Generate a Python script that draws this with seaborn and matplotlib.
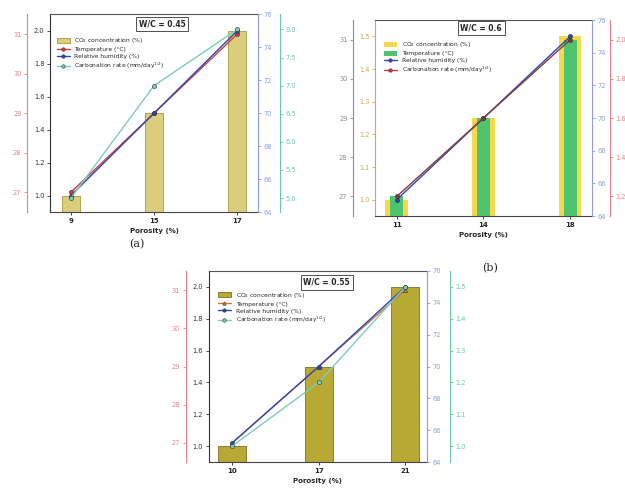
import numpy as np
import pandas as pd
import matplotlib
matplotlib.use("Agg")
import matplotlib.pyplot as plt
import seaborn as sns
from matplotlib.patches import Patch
from matplotlib.lines import Line2D

sns.set_style("ticks")
plt.rcParams['font.family'] = ['DejaVu Sans']

# ---------------- data ----------------
a_porosity = ["9", "15", "17"]
a_co2 = [1.0, 1.5, 2.0]
a_temp = [27, 29, 31]
a_rh = [65, 70, 75]
a_carb = [5.0, 7.0, 8.0]

b_porosity = ["11", "14", "18"]
b_co2 = [1.0, 1.25, 1.5]
b_temp = [27, 29, 31]
b_rh = [65, 70, 75]
b_carb = [1.2, 1.6, 2.0]

c_porosity = ["10", "17", "21"]
c_co2 = [1.0, 1.5, 2.0]
c_temp = [27, 29, 31]
c_rh = [65.2, 70, 75]
c_carb = [1.0, 1.2, 1.5]

lab_co2 = "CO$_2$ concentration (%)"
lab_temp = "Temperature (\u00b0C)"
lab_rh = "Relative humidity (%)"
lab_carb = "Carbonation rate (mm/day$^{1/2}$)"

RED_AX = "#e8808a"
BLUE_AX = "#8d9de0"
GREEN_AX = "#6cc9a0"
GRAY_AX = "#8c8c8c"
GOLD_AX = "#c2ad52"
LINE_RED = "#d23c3c"
LINE_BLUE = "#2b48b5"
LINE_TEAL = "#7dcdbb"
LINE_ORANGE = "#c8783c"

TICK_FS = 4.8

fig = plt.figure(figsize=(6.25, 4.9), dpi=100)


def style_main(ax, ylim, ticks, fmt, color="#333333"):
    ax.set_ylim(*ylim)
    ax.set_yticks(ticks)
    ax.set_yticklabels([fmt.format(t) for t in ticks])
    ax.tick_params(axis='y', labelsize=TICK_FS, length=2, width=0.6, pad=2,
                   colors=color, labelcolor=color)
    ax.tick_params(axis='x', labelsize=5, length=2, width=0.6, pad=2)
    for lab in ax.get_xticklabels():
        lab.set_fontweight('bold')
    ax.spines['left'].set_color(color)
    ax.spines['left'].set_linewidth(0.8)
    ax.spines['bottom'].set_color('#444444')
    ax.spines['bottom'].set_linewidth(0.8)
    ax.spines['top'].set_visible(True)
    ax.spines['top'].set_color('#555555')
    ax.spines['top'].set_linewidth(0.8)
    ax.spines['right'].set_visible(False)
    ax.set_xlabel("Porosity (%)", fontsize=5, fontweight='bold', labelpad=3)
    ax.set_ylabel("")


def extra_axis(ax, side, offset_px, color, ylim, ticks, fmt):
    t = ax.twinx()
    for s in t.spines.values():
        s.set_visible(False)
    sp = t.spines[side]
    sp.set_visible(True)
    sp.set_color(color)
    sp.set_linewidth(0.8)
    sp.set_position(('outward', offset_px * 72 / 100))
    if side == 'left':
        t.yaxis.set_ticks_position('left')
        t.yaxis.set_label_position('left')
    else:
        t.yaxis.set_ticks_position('right')
    t.set_ylim(*ylim)
    t.set_yticks(ticks)
    t.set_yticklabels([fmt.format(v) for v in ticks])
    t.tick_params(axis='y', labelsize=TICK_FS, length=2, width=0.6, pad=2,
                  colors=color, labelcolor=color)
    t.set_ylabel("")
    return t


def points(t, cats, vals, color, marker='o'):
    sns.pointplot(x=cats, y=vals, ax=t, color=color, markers=marker,
                  errorbar=None, markersize=3, linewidth=1.0,
                  markeredgecolor='#333333', markeredgewidth=0.4)
    t.set_ylabel("")
    t.set_xlabel("")


def title_box(ax, x, y, text):
    ax.text(x, y, text, transform=ax.transAxes, ha='center', va='center',
            fontsize=5.5, fontweight='bold', zorder=10,
            bbox=dict(boxstyle='square,pad=0.35', fc='white', ec='#333333', lw=0.6))


def legend(ax, handles, anchor):
    ax.legend(handles=handles, loc='upper left', bbox_to_anchor=anchor,
              frameon=False, fontsize=4.3, handlelength=2.2, handleheight=0.9,
              labelspacing=0.25, borderaxespad=0)


def mline(color, marker='o', label=""):
    return Line2D([], [], color=color, marker=marker, ms=2.5, mec='#333',
                  mew=0.4, lw=1, label=label)


# ---------------- panel (a) ----------------
ax_a = fig.add_axes([0.080, 0.567, 0.333, 0.404])
sns.barplot(x=a_porosity, y=a_co2, ax=ax_a, color="#dccd7d", width=0.22,
            edgecolor="#a8993f", linewidth=0.6, errorbar=None, saturation=1)
style_main(ax_a, (0.9, 2.1), [1.0, 1.2, 1.4, 1.6, 1.8, 2.0], "{:.1f}")
ta1 = extra_axis(ax_a, 'left', 23, RED_AX, (26.5, 31.5), [27, 28, 29, 30, 31], "{:d}")
ta2 = extra_axis(ax_a, 'right', 0, BLUE_AX, (64, 76), [64, 66, 68, 70, 72, 74, 76], "{:d}")
ta3 = extra_axis(ax_a, 'right', 22, GREEN_AX, (4.75, 8.27),
                 [5.0, 5.5, 6.0, 6.5, 7.0, 7.5, 8.0], "{:.1f}")
points(ta3, a_porosity, a_carb, LINE_TEAL)
points(ta2, a_porosity, a_rh, LINE_BLUE)
points(ta1, a_porosity, a_temp, LINE_RED)
ax_a.set_xlim(-0.25, 2.25)
title_box(ta1, 0.54, 0.95, "W/C = 0.45")
legend(ta1, [Patch(fc="#dccd7d", ec="#a8993f", lw=0.6, label=lab_co2),
             mline(LINE_RED, label=lab_temp), mline(LINE_BLUE, label=lab_rh),
             mline(LINE_TEAL, label=lab_carb)], (0.02, 0.90))

# ---------------- panel (b) ----------------
ax_b = fig.add_axes([0.600, 0.559, 0.347, 0.400])
sns.barplot(x=b_porosity, y=b_co2, ax=ax_b, color="#f4d94c", width=0.26,
            linewidth=0, errorbar=None, saturation=1)
style_main(ax_b, (0.95, 1.55), [1.0, 1.1, 1.2, 1.3, 1.4, 1.5], "{:.1f}", color=GOLD_AX)
tb1 = extra_axis(ax_b, 'left', 22, GRAY_AX, (26.5, 31.5), [27, 28, 29, 30, 31], "{:d}")
sns.barplot(x=b_porosity, y=b_temp, ax=tb1, color="#4fc46f", width=0.15,
            linewidth=0, errorbar=None, saturation=1)
tb1.set_ylim(26.5, 31.5)
tb1.set_ylabel("")
tb2 = extra_axis(ax_b, 'right', 0, BLUE_AX, (64, 76), [64, 66, 68, 70, 72, 74, 76], "{:d}")
tb3 = extra_axis(ax_b, 'right', 18, RED_AX, (1.1, 2.1), [1.2, 1.4, 1.6, 1.8, 2.0], "{:.1f}")
points(tb2, b_porosity, b_rh, LINE_BLUE)
points(tb3, b_porosity, b_carb, "#8a3a3a")
ax_b.set_xlim(-0.25, 2.25)
title_box(tb3, 0.49, 0.96, "W/C = 0.6")
legend(tb3, [Patch(fc="#f4d94c", ec="none", label=lab_co2),
             Patch(fc="#4fc46f", ec="none", label=lab_temp),
             mline(LINE_BLUE, label=lab_rh), mline(LINE_RED, label=lab_carb)],
       (0.03, 0.91))

# ---------------- panel (c) ----------------
ax_c = fig.add_axes([0.334, 0.057, 0.349, 0.390])
sns.barplot(x=c_porosity, y=c_co2, ax=ax_c, color="#b8a834", width=0.32,
            edgecolor="#7c7022", linewidth=0.6, errorbar=None, saturation=1)
style_main(ax_c, (0.9, 2.1), [1.0, 1.2, 1.4, 1.6, 1.8, 2.0], "{:.1f}")
tc1 = extra_axis(ax_c, 'left', 23, RED_AX, (26.5, 31.5), [27, 28, 29, 30, 31], "{:d}")
tc2 = extra_axis(ax_c, 'right', 0, BLUE_AX, (64, 76), [64, 66, 68, 70, 72, 74, 76], "{:d}")
tc3 = extra_axis(ax_c, 'right', 23, GREEN_AX, (0.95, 1.55),
                 [1.0, 1.1, 1.2, 1.3, 1.4, 1.5], "{:.1f}")
points(tc3, c_porosity, c_carb, LINE_TEAL)
points(tc2, c_porosity, c_rh, LINE_BLUE)
points(tc1, c_porosity, c_temp, LINE_ORANGE, marker='^')
ax_c.set_xlim(-0.27, 2.25)
title_box(tc1, 0.54, 0.94, "W/C = 0.55")
legend(tc1, [Patch(fc="#b8a834", ec="#7c7022", lw=0.6, label=lab_co2),
             mline(LINE_ORANGE, marker='^', label=lab_temp),
             mline(LINE_BLUE, label=lab_rh), mline(LINE_TEAL, label=lab_carb)],
       (0.03, 0.91))

# panel labels
fig.text(137 / 625, 1 - 244 / 490, "(a)", fontsize=8, family=['DejaVu Serif'],
         ha='center', va='center')
fig.text(490 / 625, 1 - 268 / 490, "(b)", fontsize=8, family=['DejaVu Serif'],
         ha='center', va='center')

fig.savefig("out.png", dpi=100, facecolor='white')
